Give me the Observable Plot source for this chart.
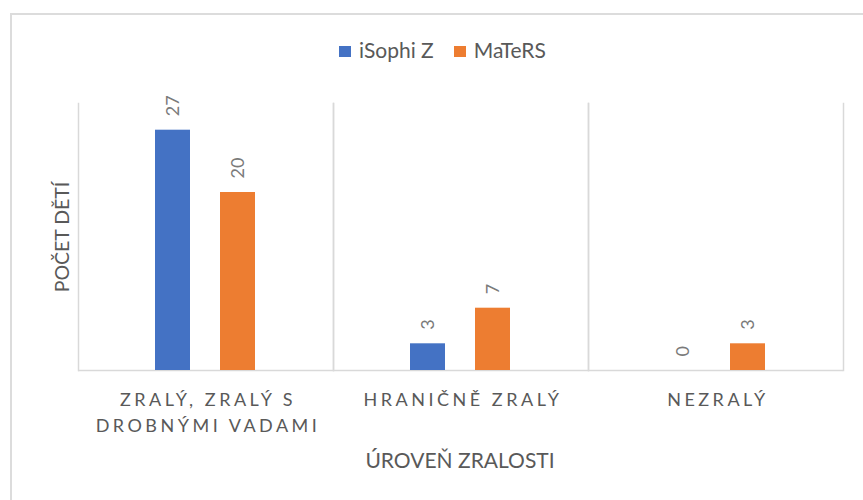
<!DOCTYPE html>
<html>
<head>
<meta charset="utf-8">
<script src="https://cdn.jsdelivr.net/npm/d3@7"></script>
<script src="https://cdn.jsdelivr.net/npm/@observablehq/plot@0.6"></script>
<style>
  html, body { margin: 0; padding: 0; background: #fff; width: 863px; height: 500px; overflow: hidden; }
  body { position: relative; font-family: Lato, sans-serif; color: #595959; }
  #border { position: absolute; left: 10px; top: 13px; width: 870px; height: 500px; border-left: 2px solid #dcdcdc; border-top: 2px solid #dcdcdc; box-sizing: border-box; }
  #chart { position: absolute; left: 0; top: 0; }
  #legend { position: absolute; top: 37px; left: 339px; display: flex; font-size: 21px; line-height: 1.2; }
  #legend .item { display: flex; align-items: center; gap: 8px; margin-right: 20px; }
  #legend .sw { width: 12px; height: 11px; display: inline-block; margin-top: 3px; }
  #xtitle { position: absolute; left: 0; width: 920px; top: 447px; text-align: center; font-size: 21px; line-height: 1.2; }
  #ytitle { position: absolute; left: 61px; top: 237px; transform: translate(-50%, -50%) rotate(-90deg); white-space: nowrap; font-size: 19.5px; }
</style>
</head>
<body>
<div id="border"></div>
<div id="chart"></div>
<div id="legend"></div>
<div id="xtitle"></div>
<div id="ytitle"></div>
<script>
const categories = ["ZRALÝ, ZRALÝ S DROBNÝMI VADAMI", "HRANIČNĚ ZRALÝ", "NEZRALÝ"];
const categoryLabels = ["ZRALÝ, ZRALÝ S\nDROBNÝMI VADAMI", "HRANIČNĚ ZRALÝ", "NEZRALÝ"];
const series = ["iSophi Z", "MaTeRS"];
const isophiZ = [27, 3, 0];
const maters = [20, 7, 3];
const colors = ["#4472C4", "#ED7D31"];
const xTitle = "ÚROVEŇ ZRALOSTI";
const yTitle = "POČET DĚTÍ";

const data = [];
categories.forEach((c, i) => {
  data.push({category: c, series: series[0], value: isophiZ[i]});
  data.push({category: c, series: series[1], value: maters[i]});
});
const catRows = categories.map((c, i) => ({category: c, label: categoryLabels[i]}));

const chart = Plot.plot({
  width: 863,
  height: 500,
  marginLeft: 77,
  marginRight: 20,
  marginTop: 103,
  marginBottom: 130,
  style: {fontFamily: "Lato, sans-serif", background: "transparent", overflow: "visible"},
  fx: {domain: categories, padding: 0, axis: null, label: null},
  x: {domain: series, paddingInner: 0.46, paddingOuter: 1.18, axis: null, label: null},
  y: {domain: [0, 30], axis: null},
  color: {domain: series, range: colors},
  marks: [
    Plot.frame({anchor: "left", stroke: "#d9d9d9", strokeWidth: 1.5}),
    Plot.frame({anchor: "right", stroke: "#d9d9d9", strokeWidth: 1.5}),
    Plot.ruleY([0], {stroke: "#d9d9d9", strokeWidth: 1.5}),
    Plot.barY(data, {fx: "category", x: "series", y: "value", fill: "series"}),
    Plot.text(data, {fx: "category", x: "series", y: "value", text: d => String(d.value),
      rotate: -90, textAnchor: "start", dy: -14, fill: "#7a7a7a", fontSize: 18}),
    Plot.text(catRows, {fx: "category", text: "label", frameAnchor: "bottom", lineAnchor: "top",
      dy: 17, dx: 2, lineHeight: 1.45, fontSize: 18, fill: "#595959"})
  ]
});
document.getElementById("chart").appendChild(chart);

// Excel-style spaced category labels
d3.select(chart).selectAll("text").each(function() {
  if (!/^\d+$/.test(this.textContent)) d3.select(this).style("letter-spacing", "3.5px");
});

const legend = document.getElementById("legend");
series.forEach((s, i) => {
  const item = document.createElement("div");
  item.className = "item";
  const sw = document.createElement("span");
  sw.className = "sw";
  sw.style.background = colors[i];
  const t = document.createElement("span");
  t.textContent = s;
  item.appendChild(sw);
  item.appendChild(t);
  legend.appendChild(item);
});
document.getElementById("xtitle").textContent = xTitle;
document.getElementById("ytitle").textContent = yTitle;
</script>
</body>
</html>
